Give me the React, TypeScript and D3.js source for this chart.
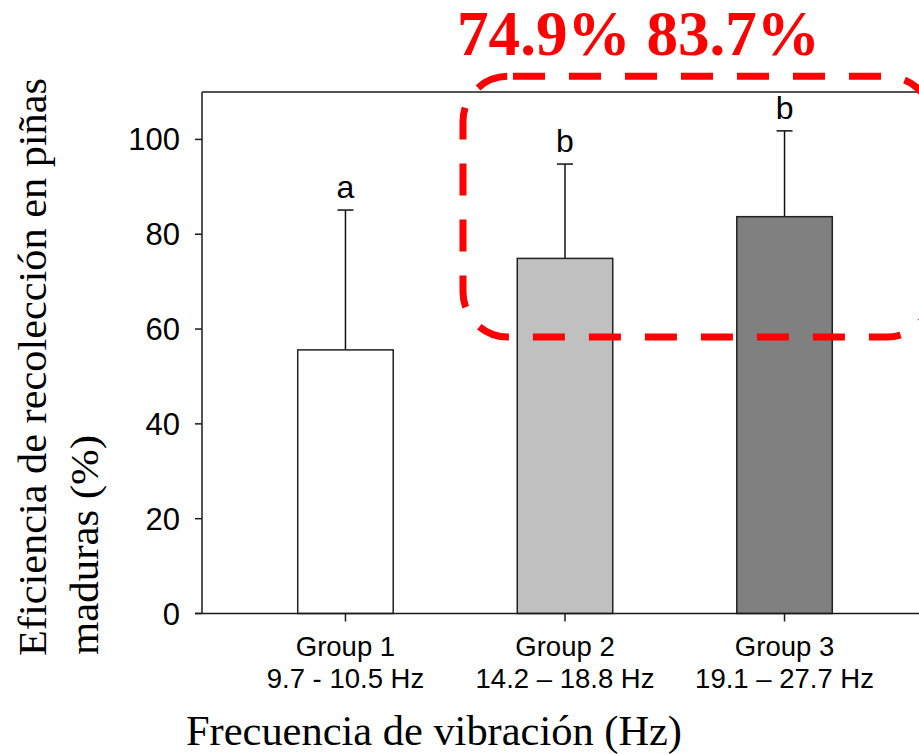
import React from "react";
import * as d3 from "d3";

const groups = ["Group 1", "Group 2", "Group 3"];
const ranges = ["9.7 - 10.5 Hz", "14.2 – 18.8 Hz", "19.1 – 27.7 Hz"];
const means = [55.6, 74.9, 83.7];
const sds = [29.5, 19.9, 18.1];
const letters = ["a", "b", "b"];
const fills = ["#ffffff", "#c0c0c0", "#808080"];
const yTicks = [0, 20, 40, 60, 80, 100];
const highlight = "74.9% 83.7%";
const yTitle = ["Eficiencia de recolección en piñas", "maduras (%)"];
const xTitle = "Frecuencia de vibración (Hz)";
// highlight box range in data units (y)
const boxY = [58.3, 113.3];

const W = 919;
const H = 754;
const left = 202;
const right = 928;
const top = 92;
const bottom = 613.5;

export default function App() {
  const y = d3.scaleLinear().domain([0, 110]).range([bottom, top]);
  const x = d3
    .scaleBand<string>()
    .domain(groups)
    .range([left, right])
    .paddingInner(0.565)
    .paddingOuter(0.436);
  const bw = x.bandwidth();
  const sans = "'Liberation Sans', Arial, sans-serif";
  const serif = "'Liberation Serif', 'Times New Roman', serif";

  const bx0 = 463;
  const bx1 = 932;
  const by0 = y(boxY[1]);
  const by1 = y(boxY[0]);

  return (
    <svg
      width={W}
      height={H}
      style={{ position: "absolute", left: 0, top: 0, background: "#fff" }}
    >
      <rect x={0} y={0} width={W} height={H} fill="#fff" />
      {groups.map((g, i) => {
        const cx = (x(g) as number) + bw / 2;
        const yt = y(means[i]);
        const ye = y(means[i] + sds[i]);
        return (
          <g key={g}>
            <line x1={cx} x2={cx} y1={yt} y2={ye} stroke="#111" strokeWidth={1.5} />
            <line x1={cx - 8} x2={cx + 8} y1={ye} y2={ye} stroke="#111" strokeWidth={1.5} />
            <rect
              x={x(g)}
              y={yt}
              width={bw}
              height={bottom - yt}
              fill={fills[i]}
              stroke="#222"
              strokeWidth={1.5}
            />
            <text
              x={cx}
              y={ye - 12}
              textAnchor="middle"
              fontFamily={sans}
              fontSize={32}
              fill="#000"
            >
              {letters[i]}
            </text>
          </g>
        );
      })}
      <line x1={left} x2={left} y1={top} y2={bottom} stroke="#1a1a1a" strokeWidth={1.5} />
      <line x1={left} x2={right} y1={top} y2={top} stroke="#1a1a1a" strokeWidth={1.5} />
      <line x1={left - 7} x2={right} y1={bottom} y2={bottom} stroke="#1a1a1a" strokeWidth={1.5} />
      <line x1={right} x2={right} y1={top} y2={bottom} stroke="#1a1a1a" strokeWidth={1.5} />
      {yTicks.map((t) => (
        <g key={t}>
          <line x1={left - 7} x2={left} y1={y(t)} y2={y(t)} stroke="#1a1a1a" strokeWidth={1.5} />
          <text
            x={180}
            y={y(t) + 11}
            textAnchor="end"
            fontFamily={sans}
            fontSize={31}
            fill="#000"
          >
            {t}
          </text>
        </g>
      ))}
      {groups.map((g, i) => {
        const cx = (x(g) as number) + bw / 2;
        return (
          <g key={"xt" + g}>
            <line x1={cx} x2={cx} y1={bottom} y2={bottom + 8} stroke="#1a1a1a" strokeWidth={1.5} />
            <text x={cx} y={655.5} textAnchor="middle" fontFamily={sans} fontSize={27.5} fill="#000">
              {g}
            </text>
            <text x={cx} y={688} textAnchor="middle" fontFamily={sans} fontSize={27.5} fill="#000">
              {ranges[i]}
            </text>
          </g>
        );
      })}
      <text
        x={186}
        y={745}
        fontFamily={serif}
        fontSize={42}
        textLength={496}
        lengthAdjust="spacingAndGlyphs"
        fill="#000"
      >
        {xTitle}
      </text>
      <text
        transform="translate(46,656) rotate(-90)"
        fontFamily={serif}
        fontSize={41}
        textLength={578}
        lengthAdjust="spacingAndGlyphs"
        fill="#000"
      >
        {yTitle[0]}
      </text>
      <text
        transform="translate(98,655) rotate(-90)"
        fontFamily={serif}
        fontSize={41}
        textLength={220}
        lengthAdjust="spacingAndGlyphs"
        fill="#000"
      >
        {yTitle[1]}
      </text>
      <rect
        x={bx0}
        y={by0}
        width={bx1 - bx0}
        height={by1 - by0}
        rx={45}
        ry={45}
        fill="none"
        stroke="#ff0000"
        strokeWidth={7}
        strokeDasharray="32 24"
        strokeDashoffset={51}
      />
      <text
        x={457}
        y={55}
        fontFamily={serif}
        fontWeight="bold"
        fontSize={63}
        textLength={363}
        lengthAdjust="spacingAndGlyphs"
        fill="#ff0000"
      >
        {highlight}
      </text>
    </svg>
  );
}
